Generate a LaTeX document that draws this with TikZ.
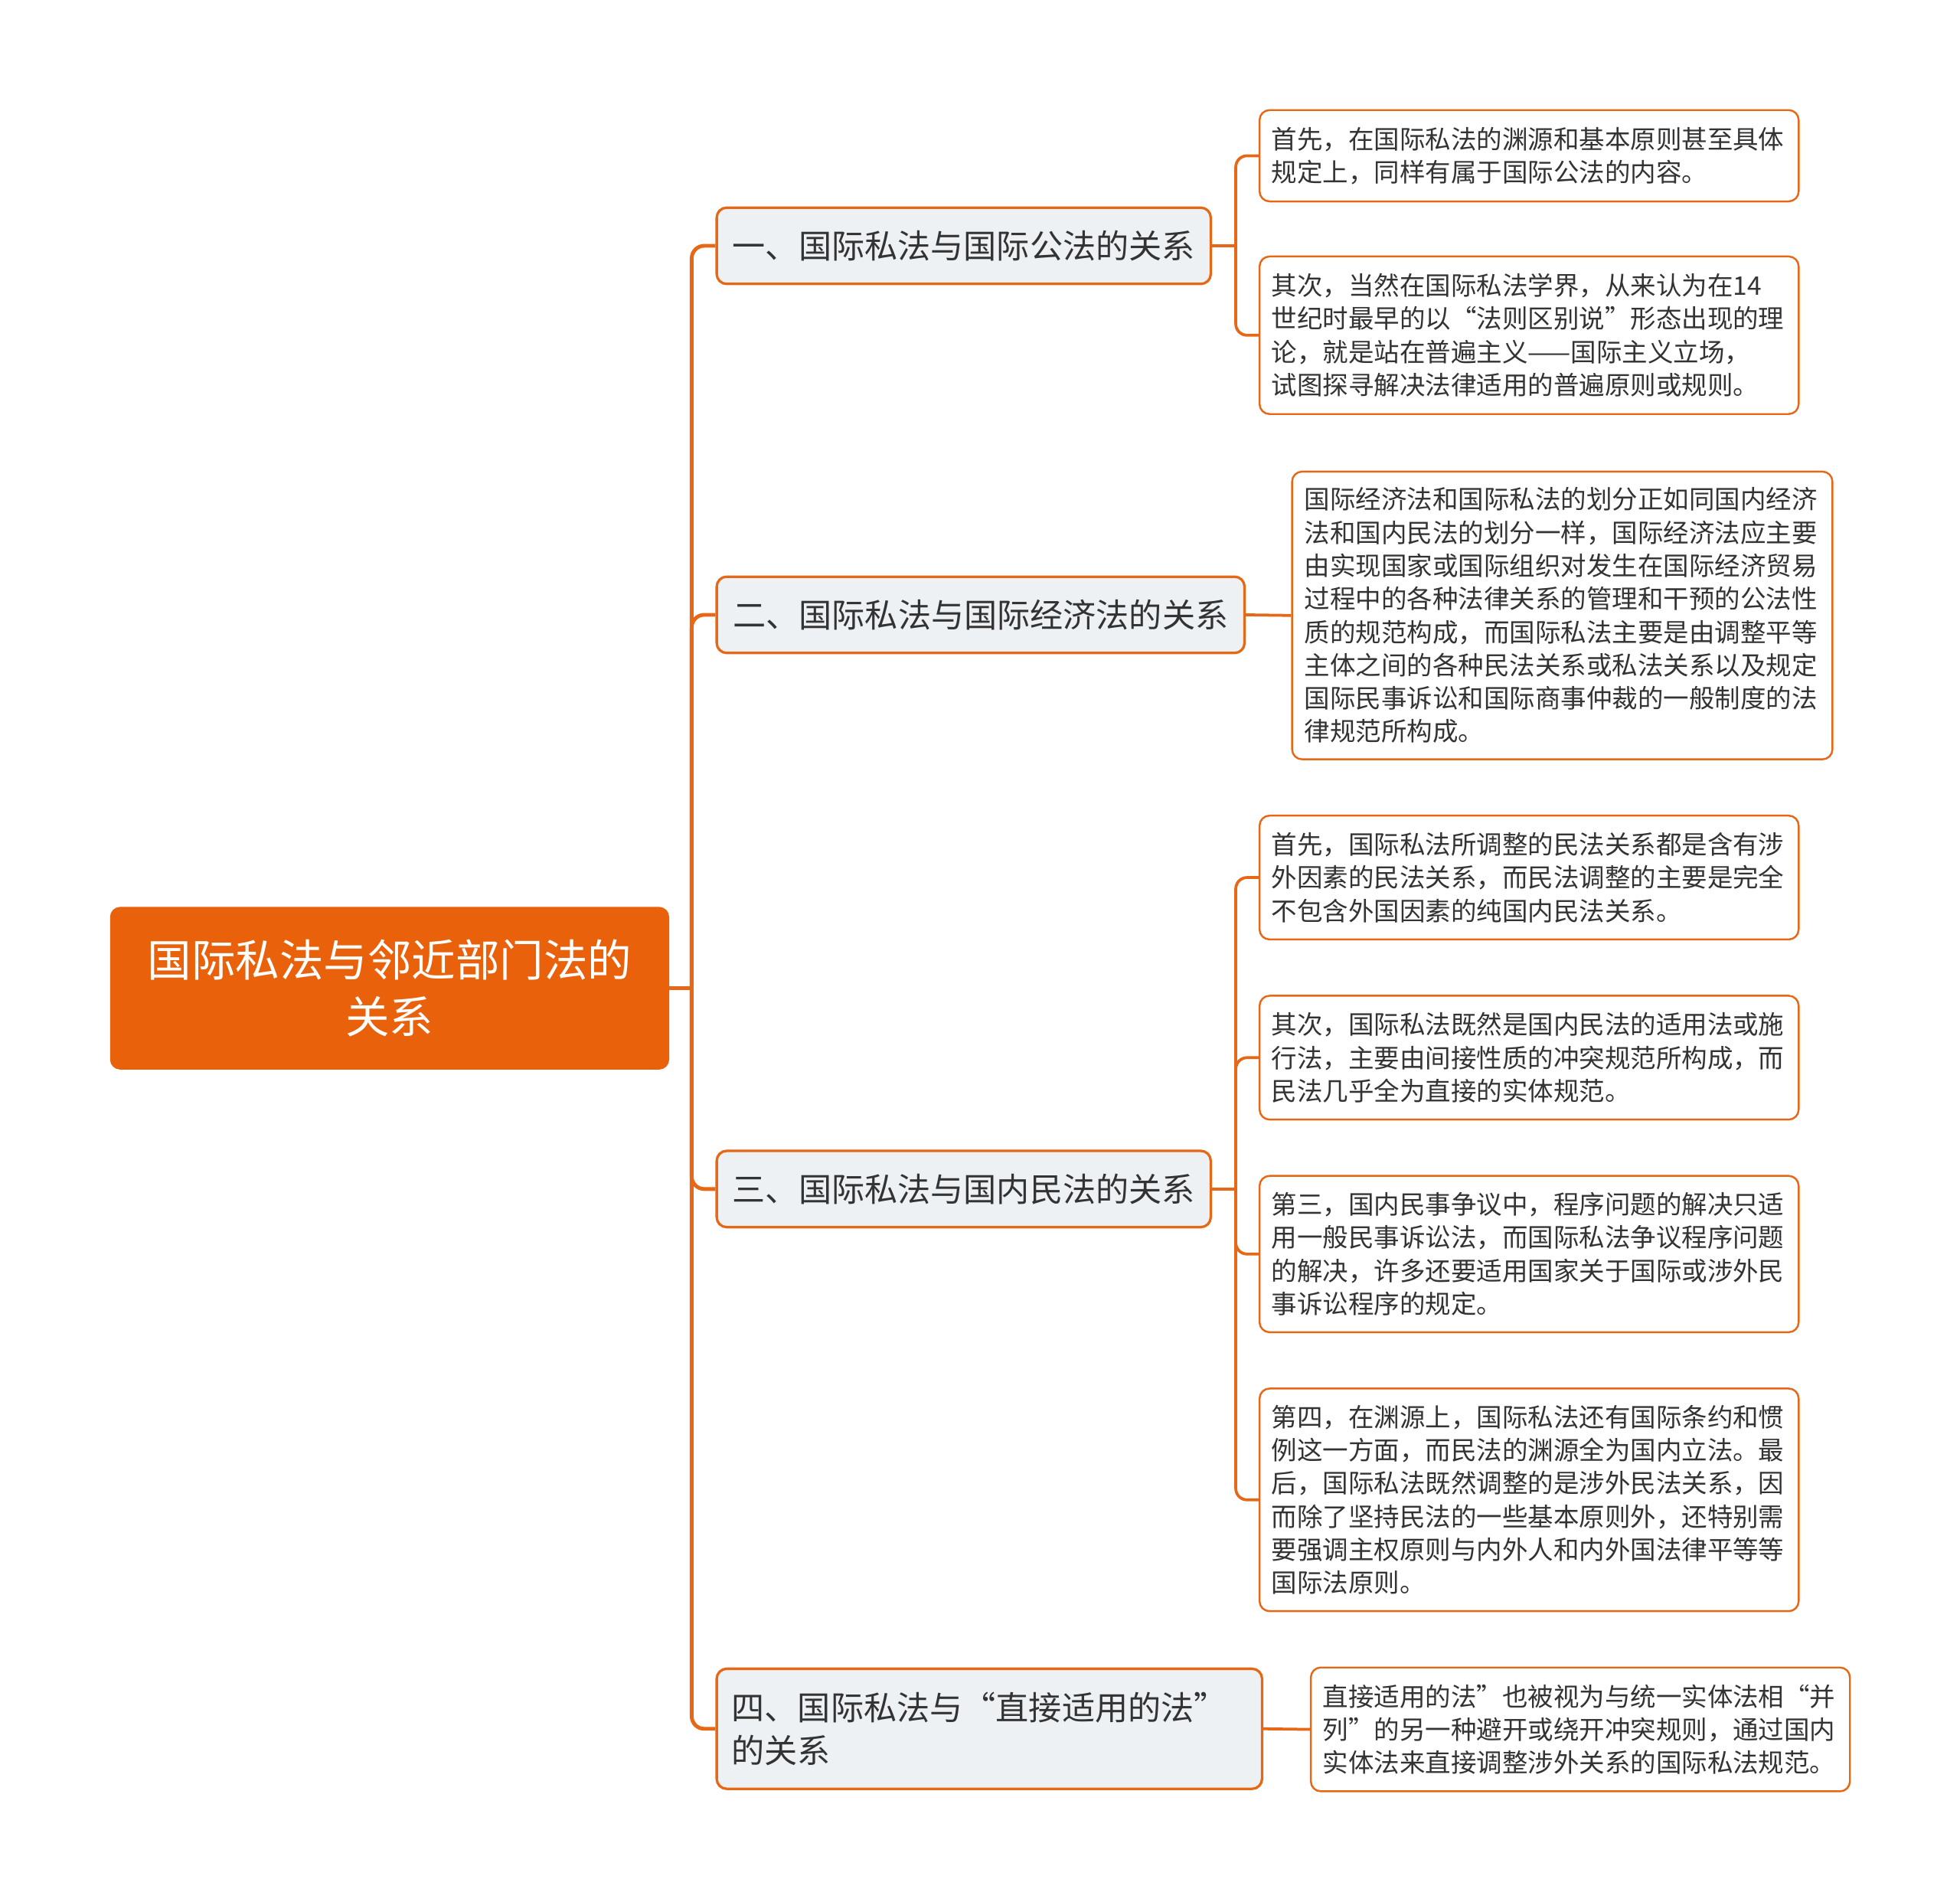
\documentclass[tikz,border=0pt]{standalone}
\usepackage{fontspec}
\setmainfont{Noto Sans CJK SC}
\usetikzlibrary{calc}
\definecolor{rootorange}{RGB}{233,98,11}
\definecolor{lineorange}{RGB}{230,104,22}
\definecolor{branchfill}{RGB}{238,241,244}
\definecolor{textgray}{RGB}{51,51,51}

\begin{document}
\begin{tikzpicture}[x=1pt,y=-1pt,
  rootnode/.style={fill=rootorange, rounded corners=8pt, text=white, font=\fontsize{35.2}{45}\selectfont, align=center, inner sep=0pt, minimum width=447pt, minimum height=130pt},
  branchnode/.style={draw=lineorange, line width=2pt, fill=branchfill, rounded corners=8pt, text=textgray, font=\fontsize{26.4}{34}\selectfont, inner sep=0pt, minimum height=61pt},
  leafnode/.style={draw=lineorange, line width=1.5pt, fill=white, rounded corners=8pt, text=textgray, font=\fontsize{20.5}{26.5}\selectfont, align=left, text width=412pt, inner sep=0pt, minimum width=431pt},
  trunk/.style={draw=lineorange, line width=3pt, rounded corners=10pt},
  twig/.style={draw=lineorange, line width=2.3pt, rounded corners=9pt}
]
\useasboundingbox (0,0) rectangle (1567,1520);

% Root Node
\node[rootnode] (root) at (311.5,790) {国际私法与邻近部门法的\\关系};
\coordinate (hub) at (553,790);

% Branch Nodes
\node[branchnode, minimum width=395pt] (pub) at (770.5,196.5) {一、国际私法与国际公法的关系};
\node[branchnode, minimum width=422pt] (econ) at (784,491.5) {二、国际私法与国际经济法的关系};
\node[branchnode, minimum width=395pt] (civil) at (770.5,950.5) {三、国际私法与国内民法的关系};
\node[branchnode, minimum width=436pt, minimum height=96pt, align=left, text width=412pt] (direct) at (791,1382) {四、国际私法与“直接适用的法”\\的关系};

% Leaf Nodes
\node[leafnode, minimum height=73pt] (pubA) at (1222.5,124.5) {首先，在国际私法的渊源和基本原则甚至具体\\规定上，同样有属于国际公法的内容。};
\node[leafnode, minimum height=126pt] (pubB) at (1222.5,268) {其次，当然在国际私法学界，从来认为在14\\世纪时最早的以“法则区别说”形态出现的理\\论，就是站在普遍主义——国际主义立场，\\试图探寻解决法律适用的普遍原则或规则。};
\node[leafnode, minimum height=230pt, minimum width=432pt] (econA) at (1249,492) {国际经济法和国际私法的划分正如同国内经济\\法和国内民法的划分一样，国际经济法应主要\\由实现国家或国际组织对发生在国际经济贸易\\过程中的各种法律关系的管理和干预的公法性\\质的规范构成，而国际私法主要是由调整平等\\主体之间的各种民法关系或私法关系以及规定\\国际民事诉讼和国际商事仲裁的一般制度的法\\律规范所构成。};
\node[leafnode, minimum height=99pt] (civilA) at (1222.5,701.5) {首先，国际私法所调整的民法关系都是含有涉\\外因素的民法关系，而民法调整的主要是完全\\不包含外国因素的纯国内民法关系。};
\node[leafnode, minimum height=99pt] (civilB) at (1222.5,845.5) {其次，国际私法既然是国内民法的适用法或施\\行法，主要由间接性质的冲突规范所构成，而\\民法几乎全为直接的实体规范。};
\node[leafnode, minimum height=125pt] (civilC) at (1222.5,1002.5) {第三，国内民事争议中，程序问题的解决只适\\用一般民事诉讼法，而国际私法争议程序问题\\的解决，许多还要适用国家关于国际或涉外民\\事诉讼程序的规定。};
\node[leafnode, minimum height=178pt] (civilD) at (1222.5,1199) {第四，在渊源上，国际私法还有国际条约和惯\\例这一方面，而民法的渊源全为国内立法。最\\后，国际私法既然调整的是涉外民法关系，因\\而除了坚持民法的一些基本原则外，还特别需\\要强调主权原则与内外人和内外国法律平等等\\国际法原则。};
\node[leafnode, minimum height=99pt] (directA) at (1263.5,1382.5) {直接适用的法”也被视为与统一实体法相“并\\列”的另一种避开或绕开冲突规则，通过国内\\实体法来直接调整涉外关系的国际私法规范。};

% Trunk Lines
\draw[trunk] (root.east) -- (hub);
\foreach \b in {pub,econ,civil,direct}
  \draw[trunk] (hub) |- (\b.west);

% Twig Lines
\coordinate (pubhub) at ($(pub.east)+(19,0)$);
\coordinate (civilhub) at ($(civil.east)+(19,0)$);
\draw[twig] (pub.east) -- (pubhub);
\foreach \l in {pubA,pubB}
  \draw[twig] (pubhub) |- (\l.west);
\draw[twig] (civil.east) -- (civilhub);
\foreach \l in {civilA,civilB,civilC,civilD}
  \draw[twig] (civilhub) |- (\l.west);
\draw[twig] (econ.east) -- (econA.west);
\draw[twig] (direct.east) -- (directA.west);

\end{tikzpicture}
\end{document}
